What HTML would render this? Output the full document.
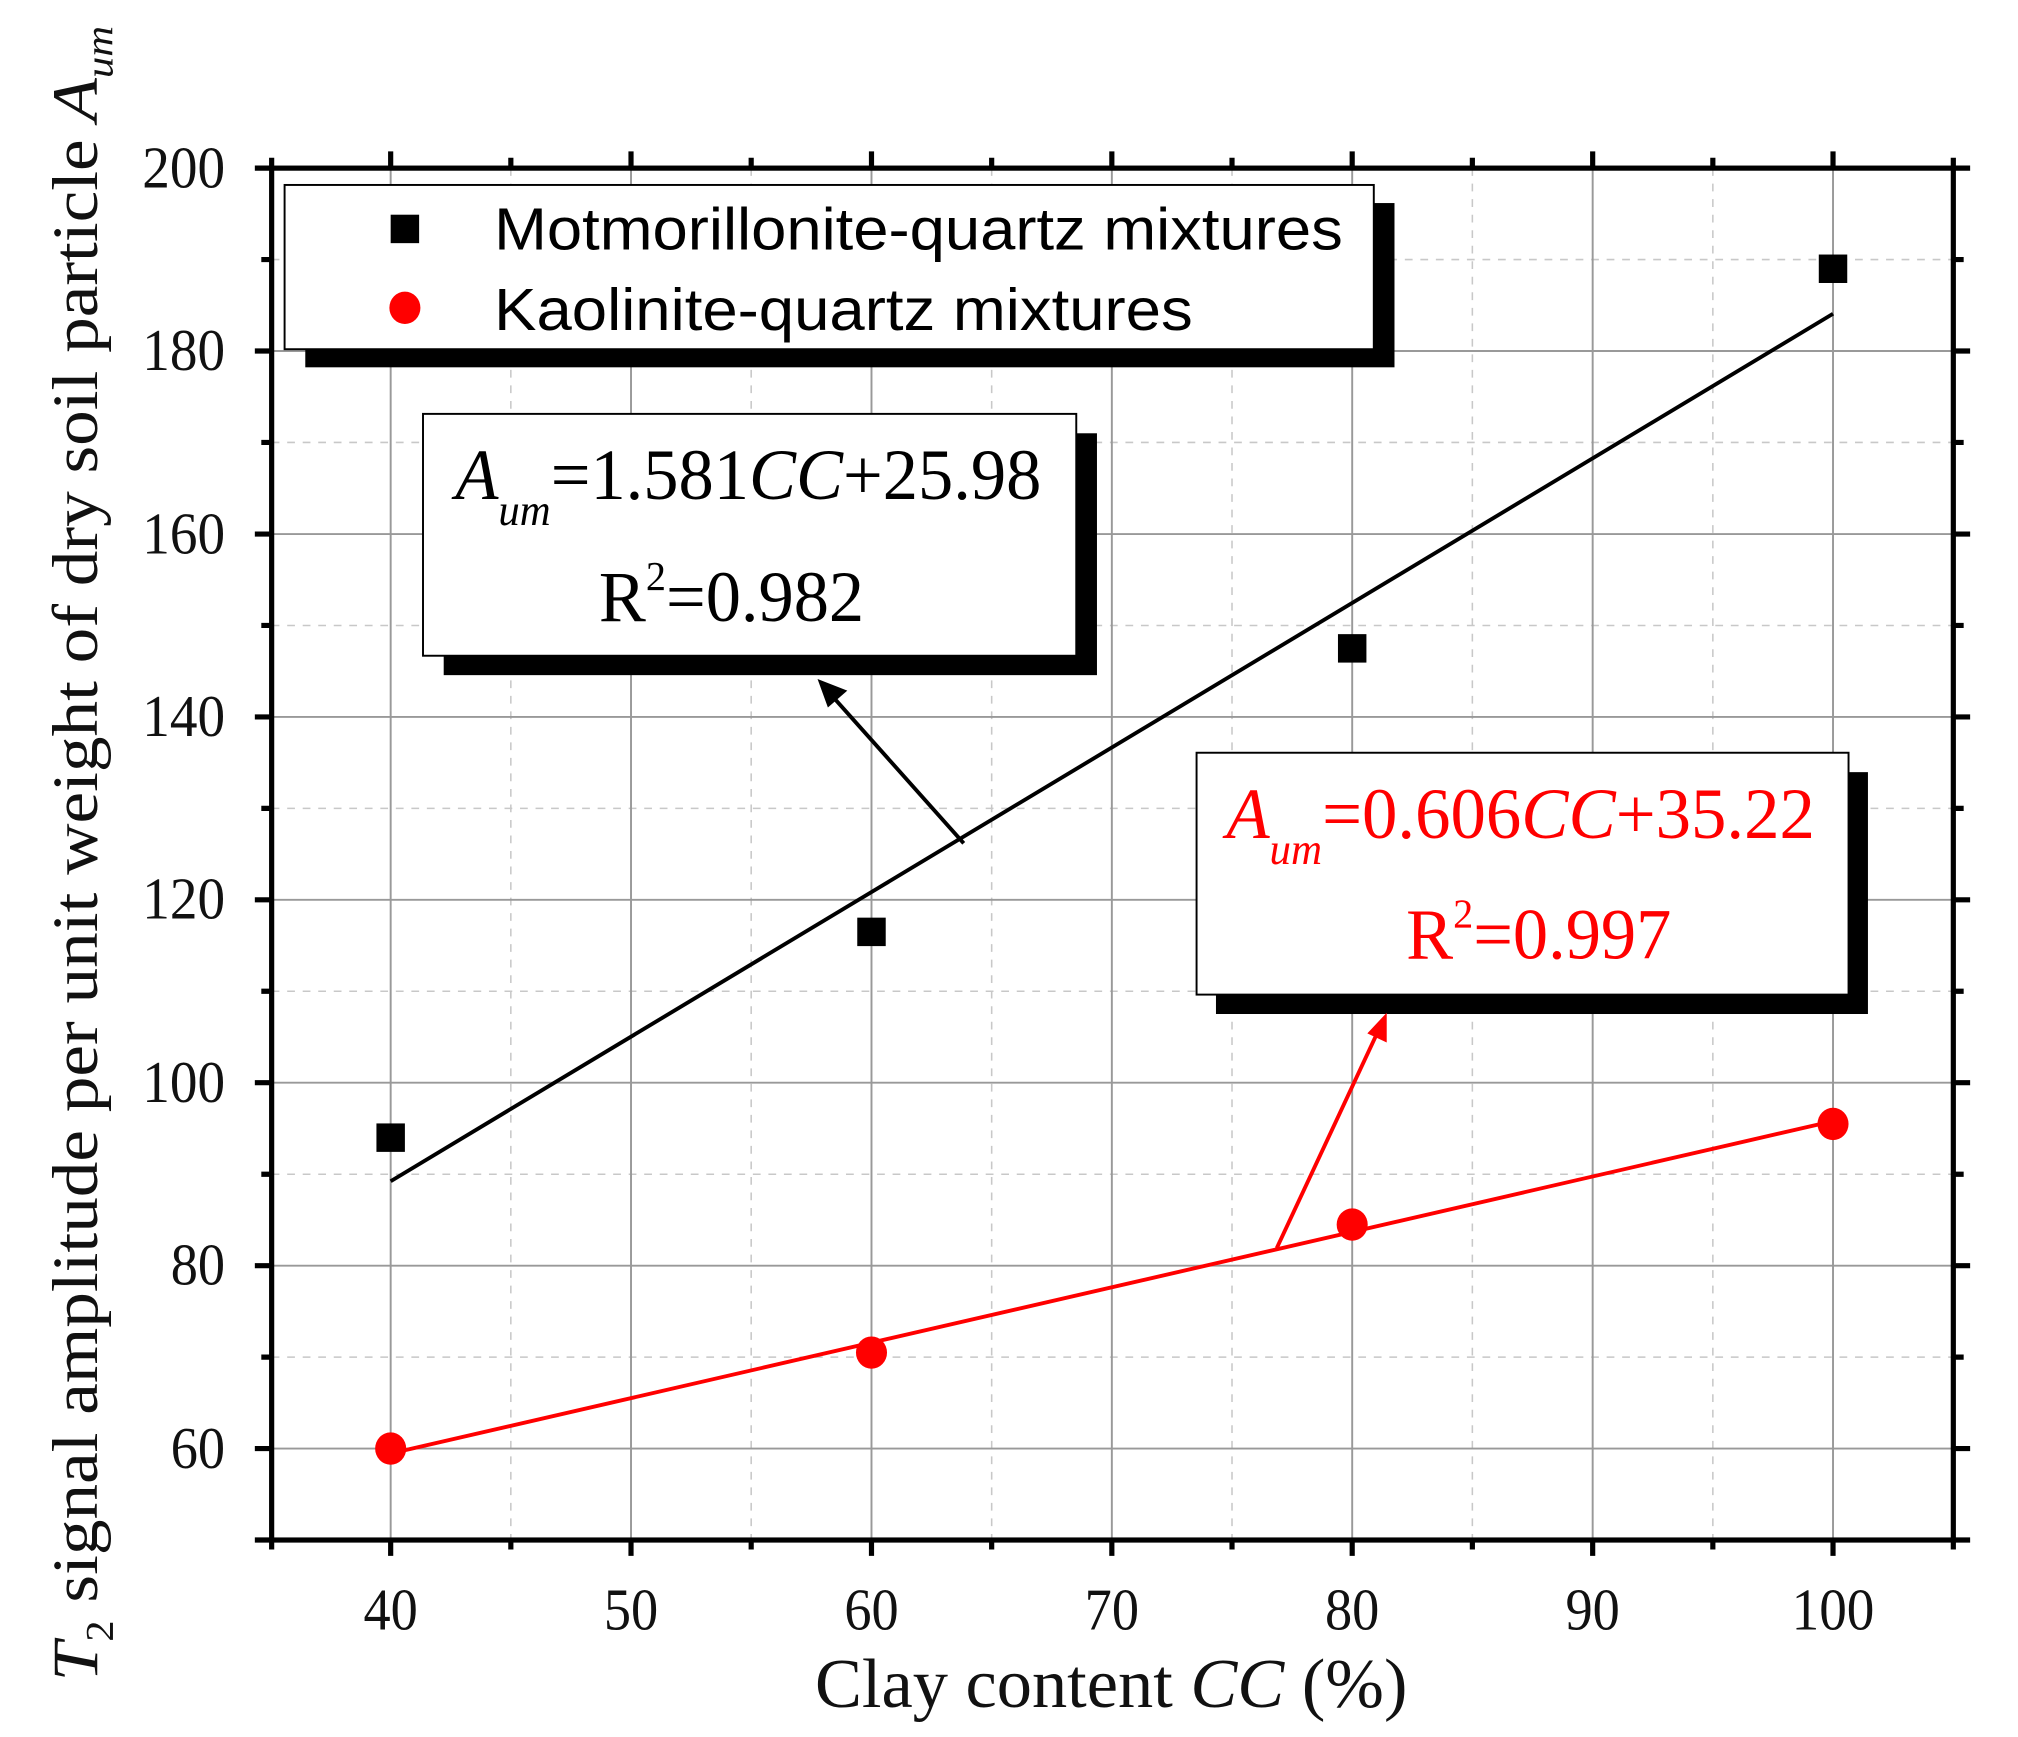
<!DOCTYPE html>
<html><head><meta charset="utf-8"><style>html,body{margin:0;padding:0;background:#fff}svg{display:block}</style></head>
<body>
<svg width="2018" height="1737" viewBox="0 0 1560 1343" preserveAspectRatio="none" xmlns="http://www.w3.org/2000/svg" font-family="Liberation Serif, serif">
<rect width="1560" height="1343" fill="#fff"/>
<g stroke="#c8c8c8" stroke-width="1.2" stroke-dasharray="6,6">
<line x1="394.9" y1="130" x2="394.9" y2="1190"/><line x1="580.7" y1="130" x2="580.7" y2="1190"/><line x1="766.6" y1="130" x2="766.6" y2="1190"/><line x1="952.4" y1="130" x2="952.4" y2="1190"/><line x1="1138.2" y1="130" x2="1138.2" y2="1190"/><line x1="1324.1" y1="130" x2="1324.1" y2="1190"/>
<line x1="210" y1="200.7" x2="1510" y2="200.7"/><line x1="210" y1="342.1" x2="1510" y2="342.1"/><line x1="210" y1="483.6" x2="1510" y2="483.6"/><line x1="210" y1="625" x2="1510" y2="625"/><line x1="210" y1="766.4" x2="1510" y2="766.4"/><line x1="210" y1="907.9" x2="1510" y2="907.9"/><line x1="210" y1="1049.3" x2="1510" y2="1049.3"/>
</g>
<g stroke="#999" stroke-width="1.5">
<line x1="302" y1="130" x2="302" y2="1190"/><line x1="487.8" y1="130" x2="487.8" y2="1190"/><line x1="673.7" y1="130" x2="673.7" y2="1190"/><line x1="859.5" y1="130" x2="859.5" y2="1190"/><line x1="1045.3" y1="130" x2="1045.3" y2="1190"/><line x1="1231.2" y1="130" x2="1231.2" y2="1190"/><line x1="1417" y1="130" x2="1417" y2="1190"/>
<line x1="210" y1="271.4" x2="1510" y2="271.4"/><line x1="210" y1="412.9" x2="1510" y2="412.9"/><line x1="210" y1="554.3" x2="1510" y2="554.3"/><line x1="210" y1="695.7" x2="1510" y2="695.7"/><line x1="210" y1="837.1" x2="1510" y2="837.1"/><line x1="210" y1="978.6" x2="1510" y2="978.6"/><line x1="210" y1="1120" x2="1510" y2="1120"/>
</g>
<rect x="210" y="130" width="1300" height="1060.7" fill="none" stroke="#000" stroke-width="4"/>
<g stroke="#000" stroke-width="4">
<path d="M302 1190v13M487.8 1190v13M673.7 1190v13M859.5 1190v13M1045.3 1190v13M1231.2 1190v13M1417 1190v13M210 1190v8M394.9 1190v8M580.7 1190v8M766.6 1190v8M952.4 1190v8M1138.2 1190v8M1324.1 1190v8M1510 1190v8"/>
<path d="M302 130v-13M487.8 130v-13M673.7 130v-13M859.5 130v-13M1045.3 130v-13M1231.2 130v-13M1417 130v-13M210 130v-8M394.9 130v-8M580.7 130v-8M766.6 130v-8M952.4 130v-8M1138.2 130v-8M1324.1 130v-8M1510 130v-8"/>
<path d="M210 130h-13M210 271.4h-13M210 412.9h-13M210 554.3h-13M210 695.7h-13M210 837.1h-13M210 978.6h-13M210 1120h-13M210 1190.7h-13M210 200.7h-8M210 342.1h-8M210 483.6h-8M210 625h-8M210 766.4h-8M210 907.9h-8M210 1049.3h-8"/>
<path d="M1510 130h13M1510 271.4h13M1510 412.9h13M1510 554.3h13M1510 695.7h13M1510 837.1h13M1510 978.6h13M1510 1120h13M1510 1190.7h13M1510 200.7h8M1510 342.1h8M1510 483.6h8M1510 625h8M1510 766.4h8M1510 907.9h8M1510 1049.3h8"/>
</g>
<g font-size="46" text-anchor="middle" fill="#111" lengthAdjust="spacingAndGlyphs">
<text x="302" y="1260" textLength="42" lengthAdjust="spacingAndGlyphs">40</text><text x="487.8" y="1260" textLength="42" lengthAdjust="spacingAndGlyphs">50</text><text x="673.7" y="1260" textLength="42" lengthAdjust="spacingAndGlyphs">60</text><text x="859.5" y="1260" textLength="42" lengthAdjust="spacingAndGlyphs">70</text><text x="1045.3" y="1260" textLength="42" lengthAdjust="spacingAndGlyphs">80</text><text x="1231.2" y="1260" textLength="42" lengthAdjust="spacingAndGlyphs">90</text><text x="1417" y="1260" textLength="64" lengthAdjust="spacingAndGlyphs">100</text>
</g>
<g font-size="46" text-anchor="end" fill="#111">
<text x="174" y="145" textLength="64" lengthAdjust="spacingAndGlyphs">200</text><text x="174" y="286" textLength="64" lengthAdjust="spacingAndGlyphs">180</text><text x="174" y="428" textLength="64" lengthAdjust="spacingAndGlyphs">160</text><text x="174" y="569" textLength="64" lengthAdjust="spacingAndGlyphs">140</text><text x="174" y="710" textLength="64" lengthAdjust="spacingAndGlyphs">120</text><text x="174" y="852" textLength="64" lengthAdjust="spacingAndGlyphs">100</text><text x="174" y="993" textLength="42" lengthAdjust="spacingAndGlyphs">80</text><text x="174" y="1135" textLength="42" lengthAdjust="spacingAndGlyphs">60</text>
</g>
<text x="630" y="1320" font-size="54" fill="#111" textLength="458" lengthAdjust="spacingAndGlyphs">Clay content <tspan font-style="italic">CC</tspan> (%)</text>
<text transform="translate(75,660) rotate(-90)" font-size="50" text-anchor="middle" fill="#111" textLength="1280" lengthAdjust="spacingAndGlyphs"><tspan font-style="italic">T</tspan><tspan font-size="30" dy="12">2</tspan><tspan dy="-12"> signal amplitude per unit weight of dry soil particle </tspan><tspan font-style="italic">A</tspan><tspan font-style="italic" font-size="30" dy="12">um</tspan></text>
<line x1="302" y1="913.3" x2="1417" y2="242.6" stroke="#000" stroke-width="3"/>
<line x1="302" y1="1123.8" x2="1417" y2="866.8" stroke="#f00" stroke-width="3"/>
<g fill="#000">
<rect x="291" y="868.6" width="22" height="22"/><rect x="662.7" y="709.5" width="22" height="22"/><rect x="1034.3" y="490.3" width="22" height="22"/><rect x="1406" y="196.8" width="22" height="22"/>
</g>
<g fill="#f00">
<ellipse cx="302" cy="1120" rx="12" ry="12.5"/><ellipse cx="673.7" cy="1045.8" rx="12" ry="12.5"/><ellipse cx="1045.3" cy="946.8" rx="12" ry="12.5"/><ellipse cx="1417" cy="869" rx="12" ry="12.5"/>
</g>
<rect x="236" y="157" width="842" height="127" fill="#000"/>
<rect x="220" y="143" width="842" height="127" fill="#fff" stroke="#000" stroke-width="1.5"/>
<rect x="302" y="166" width="22" height="22" fill="#000"/>
<ellipse cx="313" cy="238" rx="12" ry="12.5" fill="#f00"/>
<g font-family="Liberation Sans, sans-serif" font-size="46" fill="#000">
<text x="382" y="193" textLength="656" lengthAdjust="spacingAndGlyphs">Motmorillonite-quartz mixtures</text>
<text x="382" y="255" textLength="540" lengthAdjust="spacingAndGlyphs">Kaolinite-quartz mixtures</text>
</g>
<rect x="343" y="335" width="505" height="187" fill="#000"/>
<rect x="327" y="320" width="505" height="187" fill="#fff" stroke="#000" stroke-width="1.5"/>
<text x="352" y="386" font-size="56" fill="#000" textLength="453" lengthAdjust="spacingAndGlyphs"><tspan font-style="italic">A</tspan><tspan font-style="italic" font-size="34" dy="20">um</tspan><tspan dy="-20">=1.581</tspan><tspan font-style="italic">CC</tspan><tspan>+25.98</tspan></text>
<text x="463" y="480" font-size="56" fill="#000" textLength="205" lengthAdjust="spacingAndGlyphs">R<tspan font-size="32" dy="-24">2</tspan><tspan dy="24">=0.982</tspan></text>
<line x1="745" y1="652" x2="645" y2="540" stroke="#000" stroke-width="3"/>
<polygon points="632,525 655,534 640,547" fill="#000"/>
<rect x="940" y="597" width="504" height="187" fill="#000"/>
<rect x="925" y="582" width="504" height="187" fill="#fff" stroke="#000" stroke-width="1.5"/>
<text x="948" y="648" font-size="56" fill="#f00" textLength="455" lengthAdjust="spacingAndGlyphs"><tspan font-style="italic">A</tspan><tspan font-style="italic" font-size="34" dy="20">um</tspan><tspan dy="-20">=0.606</tspan><tspan font-style="italic">CC</tspan><tspan>+35.22</tspan></text>
<text x="1087" y="741" font-size="56" fill="#f00" textLength="205" lengthAdjust="spacingAndGlyphs">R<tspan font-size="32" dy="-24">2</tspan><tspan dy="24">=0.997</tspan></text>
<line x1="987" y1="965" x2="1065" y2="798" stroke="#f00" stroke-width="3"/>
<polygon points="1072,783 1072,806 1057,799" fill="#f00"/>
</svg>
</body></html>
